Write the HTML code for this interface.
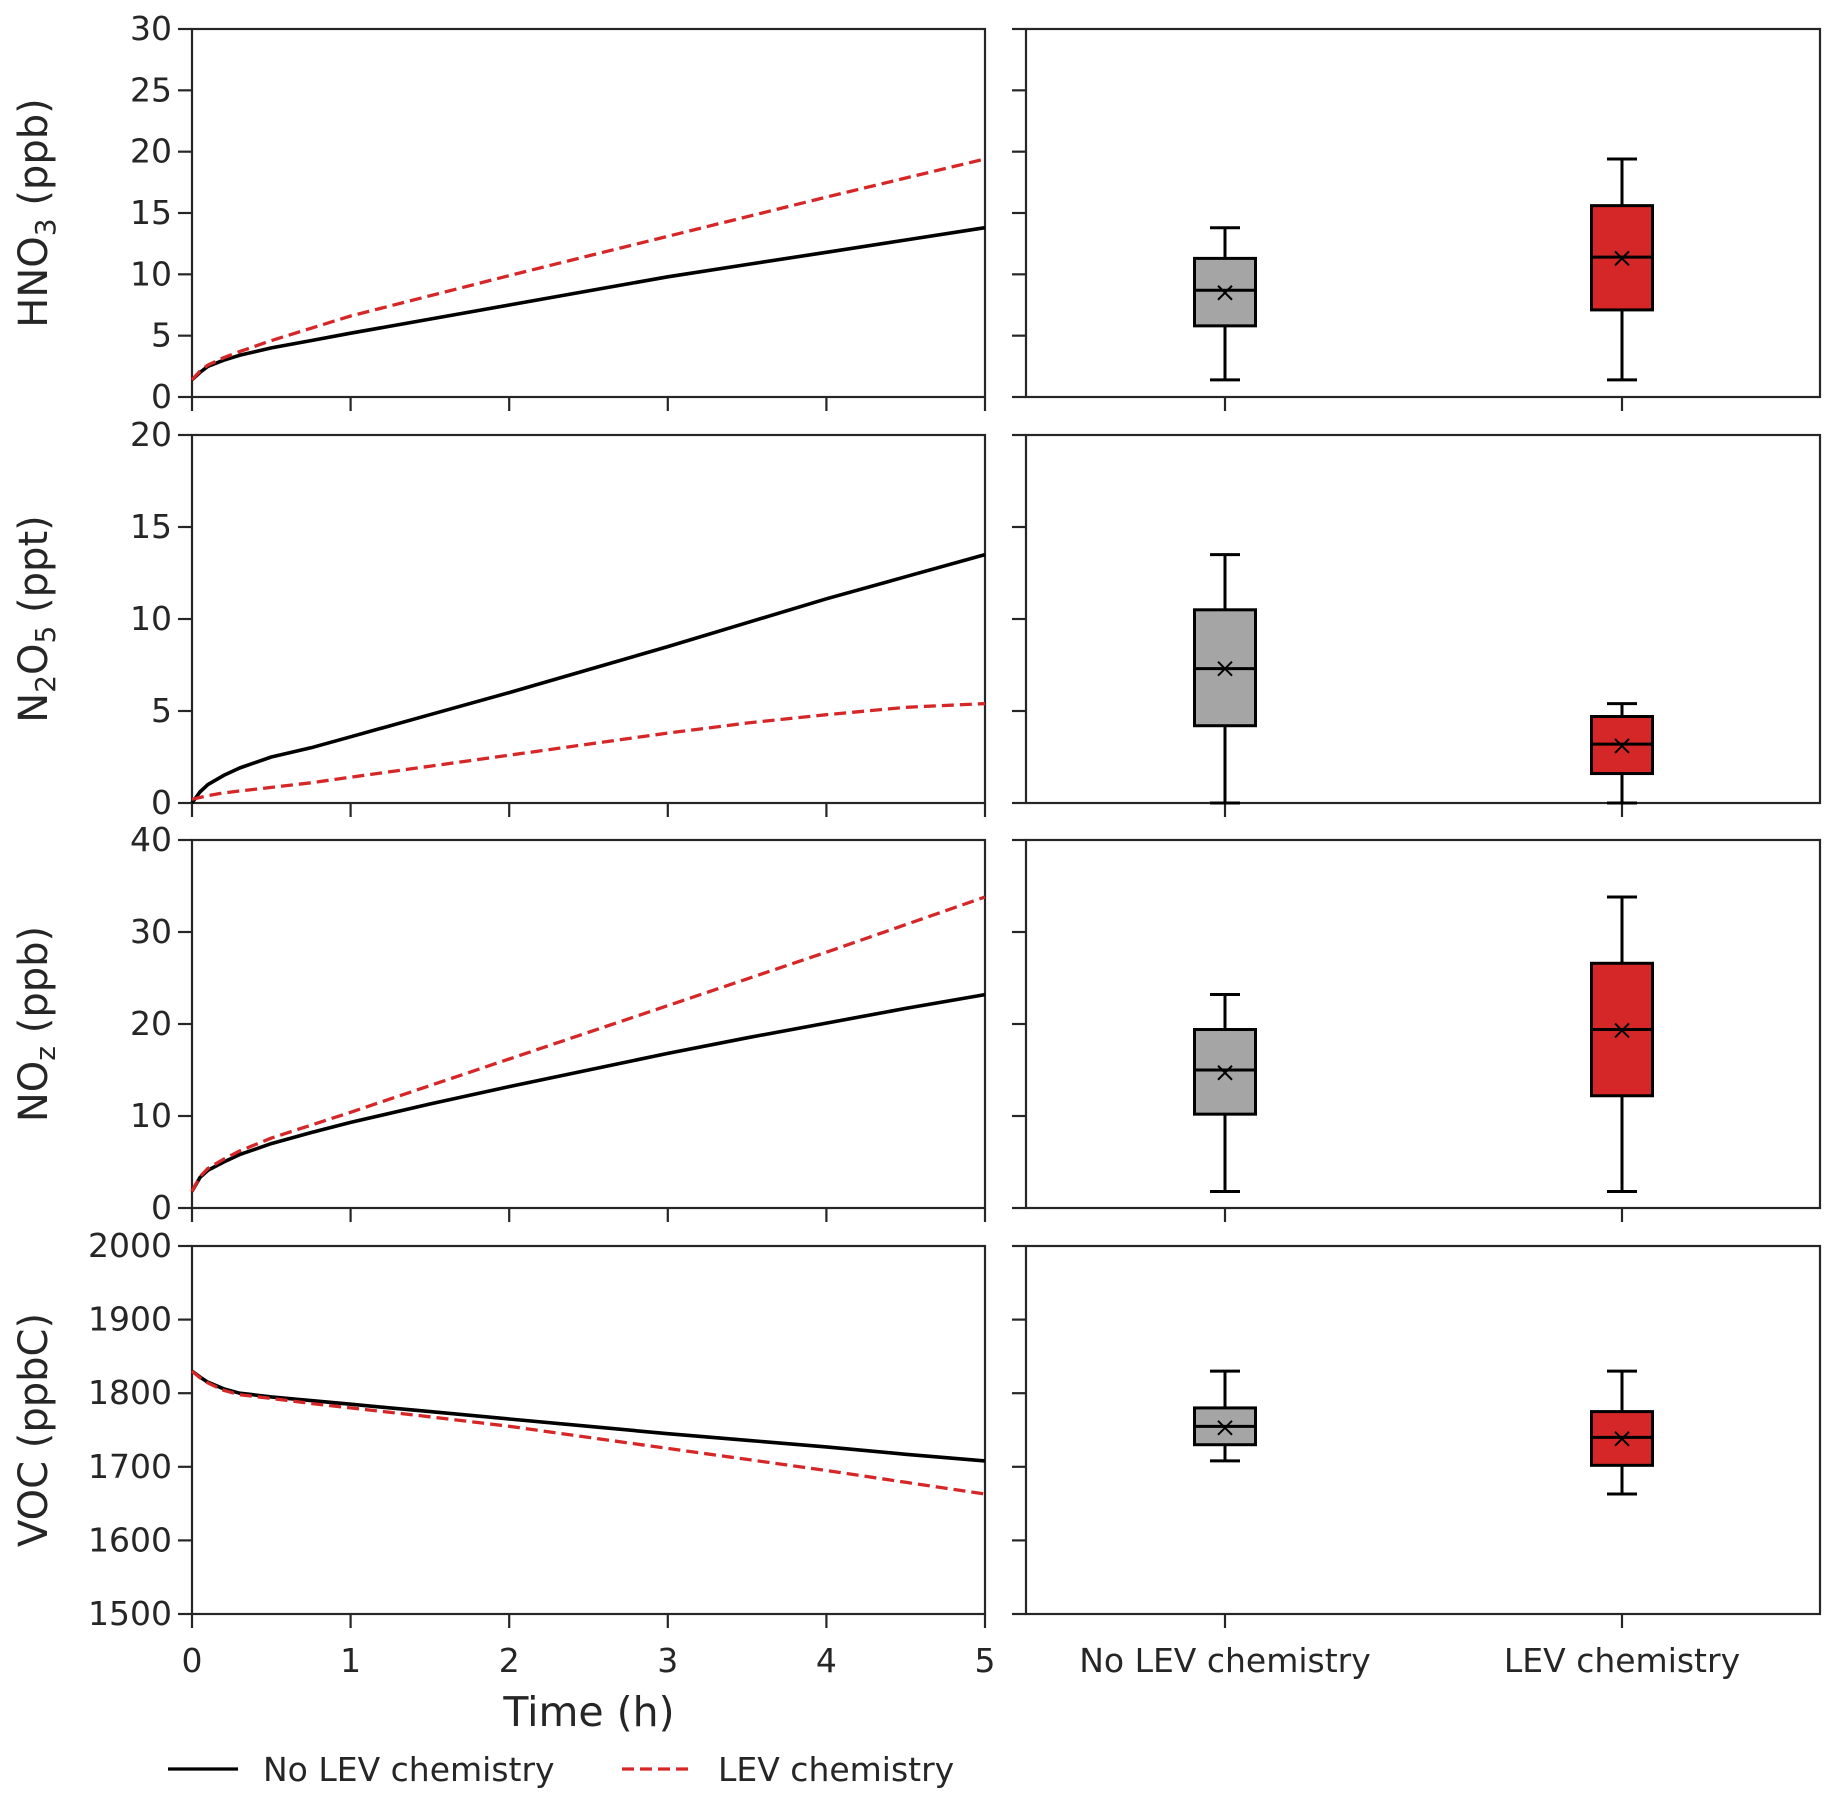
<!DOCTYPE html>
<html><head><meta charset="utf-8"><style>
html,body{margin:0;padding:0;background:#fff;}
svg{display:block;font-family:"DejaVu Sans","Liberation Sans",sans-serif;}
</style></head><body>
<svg id="chart" width="1839" height="1806" viewBox="0 0 1839 1806" xmlns="http://www.w3.org/2000/svg"></svg>
<script>
const times=[0,0.05,0.1,0.2,0.3,0.5,0.75,1,1.5,2,2.5,3,3.5,4,4.5,5];
const hno3Base=[1.4,2.0,2.5,3.0,3.4,4.0,4.6,5.2,6.35,7.5,8.65,9.8,10.8,11.8,12.8,13.8];
const hno3Lev=[1.4,2.1,2.6,3.2,3.7,4.6,5.6,6.6,8.25,9.9,11.5,13.1,14.7,16.3,17.85,19.4];
const n2o5Base=[0,0.6,1.0,1.5,1.9,2.5,3.0,3.6,4.8,6.0,7.25,8.5,9.8,11.1,12.3,13.5];
const n2o5Lev=[0.2,0.3,0.4,0.55,0.65,0.85,1.1,1.4,2.0,2.6,3.2,3.8,4.35,4.8,5.2,5.4];
const nozBase=[1.8,3.3,4.1,5.0,5.8,7.0,8.2,9.3,11.3,13.2,15.0,16.8,18.5,20.1,21.7,23.2];
const nozLev=[1.8,3.4,4.3,5.3,6.2,7.6,9.0,10.4,13.3,16.2,19.1,22.0,24.9,27.8,30.8,33.8];
const vocBase=[1830,1822,1815,1806,1800,1795,1790,1785,1775,1765,1755,1745,1736,1727,1717,1708];
const vocLev=[1830,1821,1814,1804,1798,1793,1786,1780,1768,1755,1740,1725,1710,1695,1679,1663];
const boxCategories=["No LEV chemistry","LEV chemistry"];
// box stats: [whiskerLow, q1, median, q3, whiskerHigh, mean]
const hno3Boxes=[[1.4,5.8,8.7,11.3,13.8,8.5],[1.4,7.1,11.4,15.6,19.4,11.3]];
const n2o5Boxes=[[0,4.2,7.3,10.5,13.5,7.3],[0,1.6,3.2,4.7,5.4,3.1]];
const nozBoxes=[[1.8,10.2,15.0,19.4,23.2,14.7],[1.8,12.2,19.4,26.6,33.8,19.3]];
const vocBoxes=[[1708,1730,1755,1780,1830,1753],[1663,1702,1740,1775,1830,1738]];
const xTicks=[0,1,2,3,4,5];
const hno3Ticks=[0,5,10,15,20,25,30];
const n2o5Ticks=[0,5,10,15,20];
const nozTicks=[0,10,20,30,40];
const vocTicks=[1500,1600,1700,1800,1900,2000];

const NS="http://www.w3.org/2000/svg";
const svg=document.getElementById('chart');
function el(tag,attrs,parent,txt){const e=document.createElementNS(NS,tag);for(const k in attrs)e.setAttribute(k,attrs[k]);if(txt!==undefined)e.textContent=txt;(parent||svg).appendChild(e);return e;}
const AX="#262626",RED="#d62728",GRAY="#a5a5a5";
const LX0=192,LX1=985,RX0=1026,RX1=1820;
const rows=[
 {top:29,bot:397,ticks:hno3Ticks,base:hno3Base,lev:hno3Lev,boxes:hno3Boxes,label:['HNO','3',' (ppb)'],name:'hno3'},
 {top:435,bot:803,ticks:n2o5Ticks,base:n2o5Base,lev:n2o5Lev,boxes:n2o5Boxes,label:['N','2','O','5',' (ppt)'],name:'n2o5'},
 {top:840,bot:1208,ticks:nozTicks,base:nozBase,lev:nozLev,boxes:nozBoxes,label:['NO','z',' (ppb)'],name:'noz'},
 {top:1246,bot:1614,ticks:vocTicks,base:vocBase,lev:vocLev,boxes:vocBoxes,label:['VOC (ppbC)'],name:'voc'}];
const xs=t=>LX0+(t-0)/5*(LX1-LX0);
const catX=[1225,1622];
rows.forEach((r,ri)=>{
 const y0=r.ticks[0],y1=r.ticks[r.ticks.length-1];
 const ys=v=>r.bot-(v-y0)/(y1-y0)*(r.bot-r.top);
 const g=el('g',{},svg);
 
 const f=el('rect',{x:LX0,y:r.top,width:LX1-LX0,height:r.bot-r.top,fill:'none',stroke:AX,'stroke-width':2.2},g);
 
 const f2=el('rect',{x:RX0,y:r.top,width:RX1-RX0,height:r.bot-r.top,fill:'none',stroke:AX,'stroke-width':2.2},g);
 
 r.ticks.forEach(v=>{
  const y=ys(v);
  el('line',{x1:LX0-14,x2:LX0,y1:y,y2:y,stroke:AX,'stroke-width':2.2},g);
  el('line',{x1:RX0-14,x2:RX0,y1:y,y2:y,stroke:AX,'stroke-width':2.2},g);
  const t=el('text',{x:LX0-20,y:y+11,'text-anchor':'end','font-size':33,fill:AX},g,String(v));
  
 });
 xTicks.forEach(v=>{el('line',{x1:xs(v),x2:xs(v),y1:r.bot,y2:r.bot+14,stroke:AX,'stroke-width':2.2},g);});
 catX.forEach(cx=>{el('line',{x1:cx,x2:cx,y1:r.bot,y2:r.bot+14,stroke:AX,'stroke-width':2.2},g);});
 const cy=(r.top+r.bot)/2;
 const lab=el('text',{x:0,y:0,transform:`translate(47,${cy}) rotate(-90)`,'text-anchor':'middle','font-size':40,fill:AX},g);
 
 r.label.forEach((s,i)=>{const sub=(r.label.length>1&&(i%2==1)&&s.trim().length<=1);el('tspan',sub?{'font-size':28,dy:8}:(i>0&&r.label.length>1&&(i%2==0)?{dy:-8}:{}),lab,s);});
 const pts=a=>a.map((v,i)=>xs(times[i]).toFixed(1)+','+ys(v).toFixed(1)).join(' ');
 const lb=el('polyline',{points:pts(r.base),fill:'none',stroke:'#000','stroke-width':3.6,'stroke-linejoin':'round'},g);
 
 const lr=el('polyline',{points:pts(r.lev),fill:'none',stroke:RED,'stroke-width':3.3,'stroke-dasharray':'12,6'},g);
 
 r.boxes.forEach((b,bi)=>{
  const cx=catX[bi],w=61;
  const bg=el('g',{},g);
  
  el('line',{x1:cx,x2:cx,y1:ys(b[0]),y2:ys(b[1]),stroke:'#000','stroke-width':3},bg);
  el('line',{x1:cx,x2:cx,y1:ys(b[3]),y2:ys(b[4]),stroke:'#000','stroke-width':3},bg);
  el('line',{x1:cx-15,x2:cx+15,y1:ys(b[0]),y2:ys(b[0]),stroke:'#000','stroke-width':3},bg);
  el('line',{x1:cx-15,x2:cx+15,y1:ys(b[4]),y2:ys(b[4]),stroke:'#000','stroke-width':3},bg);
  el('rect',{x:cx-w/2,y:ys(b[3]),width:w,height:ys(b[1])-ys(b[3]),fill:bi?RED:GRAY,stroke:'#000','stroke-width':3},bg);
  el('line',{x1:cx-w/2,x2:cx+w/2,y1:ys(b[2]),y2:ys(b[2]),stroke:'#000','stroke-width':3},bg);
  const my=ys(b[5]);
  el('path',{d:`M${cx-7},${my-7}L${cx+7},${my+7}M${cx-7},${my+7}L${cx+7},${my-7}`,stroke:'#000','stroke-width':2},bg);
 });
});
xTicks.forEach(v=>{const t=el('text',{x:xs(v),y:1672,'text-anchor':'middle','font-size':33,fill:AX},svg,String(v));
 });
boxCategories.forEach((c,i)=>{const t=el('text',{x:catX[i],y:1672,'text-anchor':'middle','font-size':33,fill:AX},svg,c);
 });
const xt=el('text',{x:589,y:1726,'text-anchor':'middle','font-size':41,fill:AX},svg,'Time (h)');

const lg=el('g',{},svg);

el('line',{x1:168,x2:238,y1:1769,y2:1769,stroke:'#000','stroke-width':3.3},lg);
const l1=el('text',{x:263,y:1781,'font-size':33,fill:AX},lg,'No LEV chemistry');

el('line',{x1:622,x2:692,y1:1769,y2:1769,stroke:RED,'stroke-width':3.3,'stroke-dasharray':'12,6'},lg);
const l2=el('text',{x:718,y:1781,'font-size':33,fill:AX},lg,'LEV chemistry');

</script>
</body></html>
